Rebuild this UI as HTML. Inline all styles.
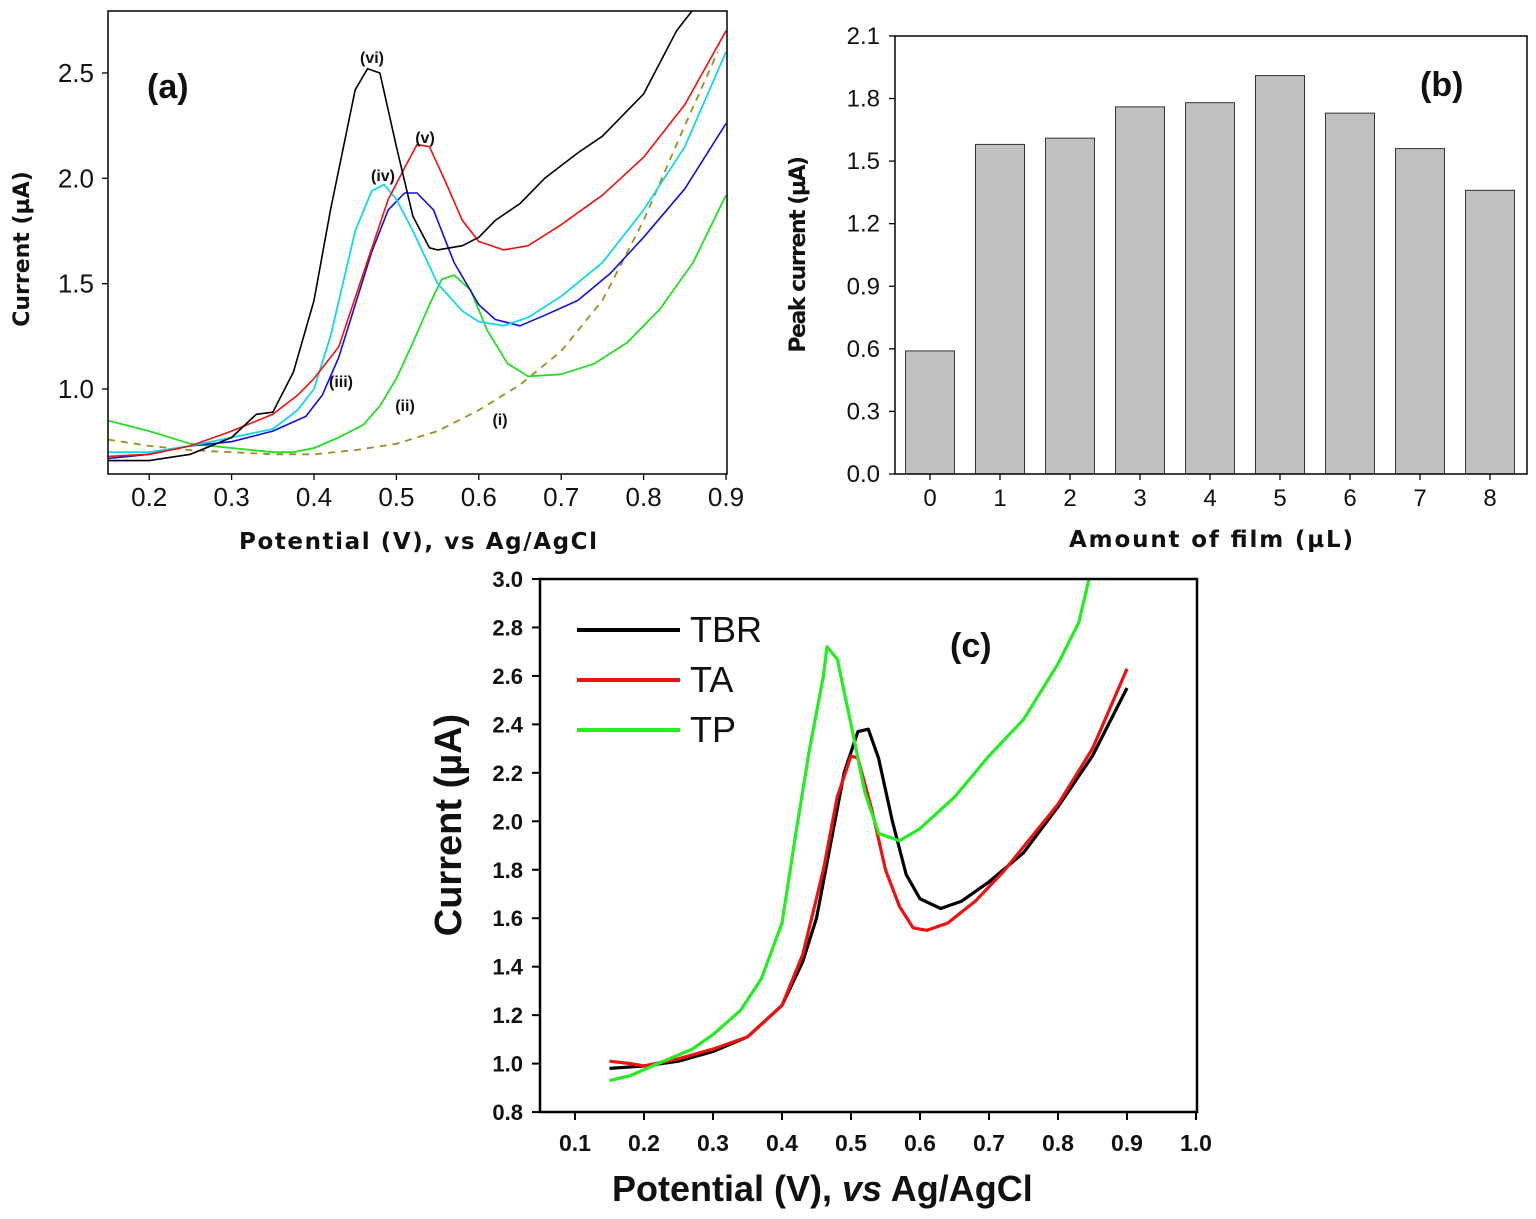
<!DOCTYPE html>
<html><head><meta charset="utf-8"><style>
html,body{margin:0;padding:0;background:#fff;}
svg{display:block;font-family:"Liberation Sans",Arial,sans-serif;}
</style></head><body>
<svg id="fig" width="1536" height="1219" viewBox="0 0 1536 1219"></svg>
<script>
// ---------- Panel (a) data ----------
const aLabels = ["(i)","(ii)","(iii)","(iv)","(v)","(vi)"];
const aX_vi = [0.15,0.2,0.25,0.3,0.33,0.35,0.375,0.4,0.42,0.45,0.465,0.48,0.5,0.52,0.54,0.55,0.58,0.6,0.62,0.65,0.68,0.72,0.75,0.8,0.84,0.86];
const aY_vi = [0.66,0.66,0.69,0.77,0.88,0.89,1.08,1.42,1.85,2.42,2.52,2.50,2.15,1.82,1.67,1.66,1.68,1.72,1.80,1.88,2.0,2.12,2.2,2.4,2.7,2.8];
const aX_v = [0.15,0.2,0.25,0.3,0.35,0.38,0.4,0.43,0.46,0.49,0.51,0.525,0.54,0.56,0.58,0.6,0.63,0.66,0.7,0.75,0.8,0.85,0.9];
const aY_v = [0.68,0.69,0.73,0.8,0.88,0.97,1.05,1.2,1.55,1.9,2.05,2.16,2.15,1.98,1.8,1.7,1.66,1.68,1.78,1.92,2.1,2.35,2.7];
const aX_iv = [0.15,0.2,0.25,0.3,0.35,0.38,0.4,0.42,0.45,0.47,0.485,0.5,0.52,0.55,0.58,0.6,0.63,0.66,0.7,0.75,0.8,0.85,0.9];
const aY_iv = [0.70,0.70,0.73,0.77,0.81,0.9,1.0,1.25,1.75,1.94,1.97,1.9,1.75,1.5,1.37,1.32,1.30,1.34,1.44,1.6,1.85,2.15,2.6];
const aX_iii = [0.15,0.2,0.25,0.3,0.35,0.39,0.41,0.43,0.45,0.47,0.49,0.51,0.525,0.545,0.57,0.6,0.62,0.65,0.68,0.72,0.76,0.8,0.85,0.9];
const aY_iii = [0.67,0.69,0.73,0.75,0.8,0.87,0.97,1.15,1.4,1.65,1.85,1.93,1.93,1.85,1.6,1.4,1.33,1.30,1.35,1.42,1.55,1.72,1.95,2.26];
const aX_ii = [0.15,0.2,0.25,0.3,0.35,0.375,0.4,0.43,0.46,0.48,0.5,0.52,0.54,0.555,0.57,0.59,0.61,0.635,0.66,0.7,0.74,0.78,0.82,0.86,0.9];
const aY_ii = [0.85,0.80,0.74,0.72,0.70,0.70,0.72,0.77,0.83,0.92,1.05,1.22,1.40,1.52,1.54,1.47,1.28,1.12,1.06,1.07,1.12,1.22,1.38,1.6,1.92];
const aX_i = [0.15,0.2,0.25,0.3,0.35,0.4,0.45,0.5,0.55,0.6,0.65,0.7,0.75,0.8,0.85,0.89];
const aY_i = [0.76,0.73,0.71,0.70,0.69,0.69,0.71,0.74,0.80,0.90,1.02,1.18,1.42,1.8,2.25,2.6];
const aXTicks = ["0.2","0.3","0.4","0.5","0.6","0.7","0.8","0.9"];
const aYTicks = ["1.0","1.5","2.0","2.5"];
// ---------- Panel (b) data ----------
const bCategories = ["0","1","2","3","4","5","6","7","8"];
const bValues = [0.59,1.58,1.61,1.76,1.78,1.91,1.73,1.56,1.36];
const bYTicks = ["0.0","0.3","0.6","0.9","1.2","1.5","1.8","2.1"];
// ---------- Panel (c) data ----------
const cX_TBR = [0.15,0.2,0.25,0.3,0.35,0.4,0.43,0.45,0.47,0.49,0.51,0.525,0.54,0.56,0.58,0.6,0.63,0.66,0.7,0.75,0.8,0.85,0.9];
const cY_TBR = [0.98,0.99,1.01,1.05,1.11,1.24,1.42,1.6,1.9,2.2,2.37,2.38,2.26,2.0,1.78,1.68,1.64,1.67,1.75,1.87,2.06,2.27,2.55];
const cX_TA = [0.15,0.18,0.2,0.25,0.3,0.35,0.4,0.43,0.46,0.48,0.5,0.51,0.53,0.55,0.57,0.59,0.61,0.64,0.68,0.72,0.76,0.8,0.85,0.9];
const cY_TA = [1.01,1.0,0.99,1.02,1.06,1.11,1.24,1.45,1.8,2.1,2.27,2.26,2.05,1.8,1.65,1.56,1.55,1.58,1.67,1.79,1.93,2.07,2.3,2.63];
const cX_TP = [0.15,0.18,0.22,0.27,0.3,0.34,0.37,0.4,0.42,0.44,0.46,0.465,0.48,0.5,0.52,0.54,0.57,0.6,0.65,0.7,0.75,0.8,0.83,0.845];
const cY_TP = [0.93,0.95,1.0,1.06,1.12,1.22,1.35,1.58,1.95,2.3,2.6,2.72,2.67,2.4,2.12,1.95,1.92,1.97,2.1,2.27,2.42,2.65,2.82,3.0];
const cXTicks = ["0.1","0.2","0.3","0.4","0.5","0.6","0.7","0.8","0.9","1.0"];
const cYTicks = ["0.8","1.0","1.2","1.4","1.6","1.8","2.0","2.2","2.4","2.6","2.8","3.0"];
const cSeries = ["TBR","TA","TP"];

const NS="http://www.w3.org/2000/svg";
const svg=document.getElementById('fig');
const WIDE='"DejaVu Sans",Verdana,sans-serif';
function mk(tag,attrs,parent){const e=document.createElementNS(NS,tag);for(const k in attrs)e.setAttribute(k,attrs[k]);(parent||svg).appendChild(e);return e;}
function txt(s,attrs,parent){const e=mk('text',attrs,parent);e.textContent=s;return e;}

// ===== Panel A =====
const ax=v=>108+(v-0.15)*824;
const ay=v=>389-(v-1)*210.7;
const gA=mk('g',{});


mk('clipPath',{id:'clipA'},gA);
mk('rect',{x:108,y:11,width:619,height:463},document.getElementById('clipA'));
function line(xs,ys,fx,fy,color,w,parent,name,dash){
  const p=mk('polyline',{points:xs.map((x,i)=>fx(x).toFixed(1)+','+fy(ys[i]).toFixed(1)).join(' '),fill:'none',stroke:color,'stroke-width':w,'stroke-linejoin':'round'},parent);
  if(dash)p.setAttribute('stroke-dasharray',dash);
  
  
  return p;
}
const gAc=mk('g',{'clip-path':'url(#clipA)'},gA);
line(aX_i,aY_i,ax,ay,'#9b8f1e',1.8,gAc,'curve-i','7,6');
line(aX_ii,aY_ii,ax,ay,'#22e022',1.8,gAc,'curve-ii');
line(aX_iii,aY_iii,ax,ay,'#1010e0',1.6,gAc,'curve-iii');
line(aX_iv,aY_iv,ax,ay,'#10d8f0',1.8,gAc,'curve-iv');
line(aX_v,aY_v,ax,ay,'#f01010',1.6,gAc,'curve-v');
line(aX_vi,aY_vi,ax,ay,'#000',1.6,gAc,'curve-vi');
const fr=mk('rect',{x:108,y:11,width:619,height:463,fill:'none',stroke:'#000','stroke-width':1.5},gA);


aXTicks.forEach(t=>{const x=ax(+t);mk('line',{x1:x,x2:x,y1:474,y2:480,stroke:'#000','stroke-width':1.3},gA);
  const e=txt(t,{x:x,y:506,'font-size':26,'text-anchor':'middle',fill:'#111'},gA);
  });
aYTicks.forEach(t=>{const y=ay(+t);mk('line',{x1:102,x2:108,y1:y,y2:y,stroke:'#000','stroke-width':1.3},gA);
  const e=txt(t,{x:94,y:y+9,'font-size':26,'text-anchor':'end',fill:'#111'},gA);
  });
let e;
e=txt('Potential (V), vs Ag/AgCl',{x:418,y:549,'font-size':23,'font-weight':'bold','text-anchor':'middle',fill:'#111','font-family':WIDE,textLength:358},gA);

e=txt('Current (µA)',{x:0,y:0,'font-size':22,'font-weight':'bold','text-anchor':'middle',fill:'#111','font-family':WIDE,transform:'translate(29,249) rotate(-90)'},gA);

e=txt('(a)',{x:147,y:98,'font-size':34,'font-weight':'bold',fill:'#111'},gA);

const aLabPos=[[500,425],[405,411],[341,387],[383,181],[425,143],[372,63]];
aLabels.forEach((l,i)=>{const t=txt(l,{x:aLabPos[i][0],y:aLabPos[i][1],'font-size':16,'font-weight':'bold','text-anchor':'middle',fill:'#111'},gA);
  });

// ===== Panel B =====
const gB=mk('g',{});


const bx=i=>930+i*70;
const by=v=>474-v*208.6;
bCategories.forEach((c,i)=>{
  const r=mk('rect',{x:bx(i)-24.5,y:by(bValues[i]),width:49,height:474-by(bValues[i]),fill:'#c0c0c0',stroke:'#333','stroke-width':1},gB);
  
  mk('line',{x1:bx(i),x2:bx(i),y1:474,y2:480,stroke:'#000','stroke-width':1.3},gB);
  const t=txt(c,{x:bx(i),y:506,'font-size':24,'text-anchor':'middle',fill:'#111'},gB);
  
});
const frB=mk('path',{d:'M895,36 V474 H1527 V36 Z',fill:'none',stroke:'#000','stroke-width':1.5},gB);

bYTicks.forEach(t=>{const y=by(+t);mk('line',{x1:889,x2:895,y1:y,y2:y,stroke:'#000','stroke-width':1.3},gB);
  const e=txt(t,{x:880,y:y+8,'font-size':24,'text-anchor':'end',fill:'#111'},gB);
  });
e=txt('Amount of film (µL)',{x:1211,y:547,'font-size':23,'font-weight':'bold','text-anchor':'middle',fill:'#111','font-family':WIDE,textLength:284},gB);

e=txt('Peak current (µA)',{x:0,y:0,'font-size':22,'font-weight':'bold','text-anchor':'middle',fill:'#111','font-family':WIDE,'letter-spacing':'-1.5',transform:'translate(805,255) rotate(-90)'},gB);

e=txt('(b)',{x:1420,y:96,'font-size':34,'font-weight':'bold',fill:'#111'},gB);


// ===== Panel C =====
const gC=mk('g',{});


const cx=v=>575+(v-0.1)*690;
const cy=v=>579+(3-v)*242.3;
mk('clipPath',{id:'clipC'},gC);
mk('rect',{x:540,y:579,width:657,height:533},document.getElementById('clipC'));
const gCc=mk('g',{'clip-path':'url(#clipC)'},gC);
const cColors=['#000','#f01010','#22ee22'];
line(cX_TBR,cY_TBR,cx,cy,cColors[0],3.2,gCc,'series-tbr');
line(cX_TA,cY_TA,cx,cy,cColors[1],3.2,gCc,'series-ta');
line(cX_TP,cY_TP,cx,cy,cColors[2],3.2,gCc,'series-tp');
const frC=mk('rect',{x:540,y:579,width:657,height:533,fill:'none',stroke:'#000','stroke-width':2.5},gC);

cXTicks.forEach(t=>{const x=cx(+t);mk('line',{x1:x,x2:x,y1:1112,y2:1120,stroke:'#000','stroke-width':2},gC);
  const e=txt(t,{x:x,y:1151,'font-size':23,'font-weight':'bold','text-anchor':'middle',fill:'#111'},gC);
  });
cYTicks.forEach(t=>{const y=cy(+t);mk('line',{x1:532,x2:540,y1:y,y2:y,stroke:'#000','stroke-width':2},gC);
  const e=txt(t,{x:523,y:y+8,'font-size':22,'font-weight':'bold','text-anchor':'end',fill:'#111'},gC);
  });
e=txt('Potential (V), ',{x:612,y:1201,'font-size':36,'font-weight':'bold',fill:'#111'},gC);
const ts=mk('tspan',{'font-style':'italic'},e);ts.textContent='vs';
const ts2=mk('tspan',{},e);ts2.textContent=' Ag/AgCl';

e=txt('Current (µA)',{x:0,y:0,'font-size':38,'font-weight':'bold','text-anchor':'middle',fill:'#111',transform:'translate(461,825) rotate(-90)'},gC);

e=txt('(c)',{x:950,y:657,'font-size':34,'font-weight':'bold',fill:'#111'},gC);

cSeries.forEach((s,i)=>{const y=642+i*50;
  const g=mk('g',{},gC);
  
  
  mk('line',{x1:577,x2:680,y1:y-12,y2:y-12,stroke:cColors[i],'stroke-width':4},g);
  txt(s,{x:690,y:y,'font-size':36,fill:'#111'},g);
});
</script>
</body></html>
